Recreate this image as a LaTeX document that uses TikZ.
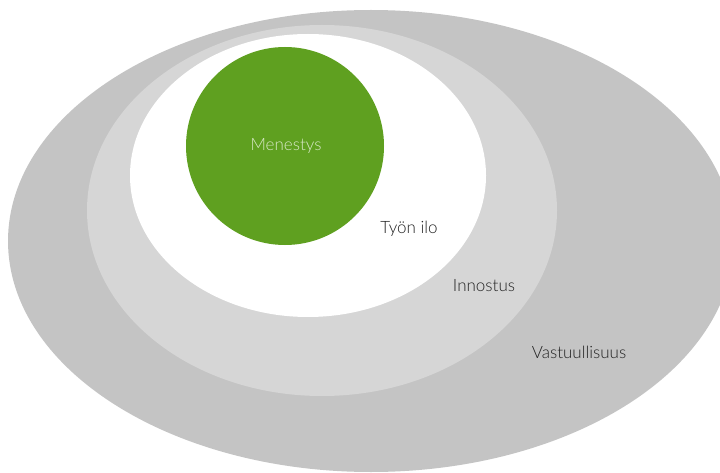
\documentclass[tikz,border=0pt]{standalone}
\usepackage{fontspec}
\setmainfont{Lato}[UprightFont=* Light]
\usepackage{tikz}
\definecolor{outergray}{HTML}{C4C4C4}
\definecolor{innergray}{HTML}{D6D6D6}
\definecolor{leafgreen}{HTML}{5FA020}
\definecolor{labelgray}{HTML}{222222}
\definecolor{palegreen}{HTML}{D9E9C9}

\begin{document}
\begin{tikzpicture}[x=1pt,y=-1pt,
  label/.style={font=\fontsize{17}{20}\selectfont,text=labelgray,inner sep=0pt}]
\useasboundingbox (0,0) rectangle (720,473);
\clip (0,0) rectangle (720,473);
\fill[outergray] (371,241) ellipse [x radius=363, y radius=231];
\fill[innergray] (322,210.5) ellipse [x radius=235, y radius=185.5];
\fill[white] (308,175.5) ellipse [x radius=178, y radius=141.5];
\fill[leafgreen] (285,146) circle [radius=99];
\node[label,text=palegreen] (menestys) at (286,146){Menestys};
\node[label] (ilo) at (409,229){Työn ilo};
\node[label] (innostus) at (484,286){Innostus};
\node[label] (vastuu) at (579,352){Vastuullisuus};
\end{tikzpicture}
\end{document}
